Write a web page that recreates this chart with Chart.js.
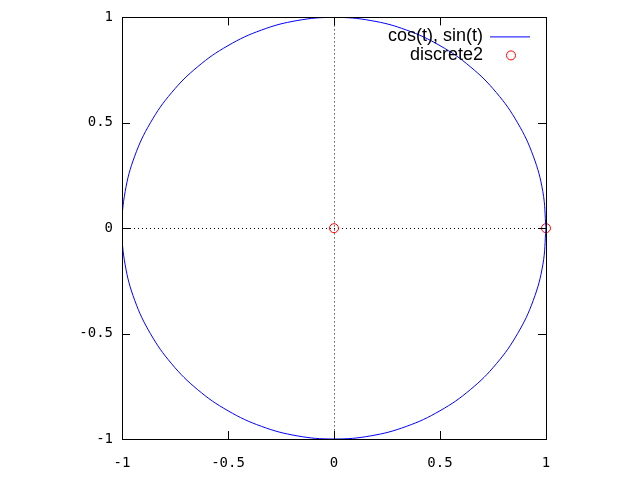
<!DOCTYPE html>
<html>
<head>
<meta charset="utf-8">
<script src="https://cdn.jsdelivr.net/npm/chart.js@4/dist/chart.umd.min.js"></script>
<style>
  html, body { margin: 0; padding: 0; background: #fff; }
  #wrap { width: 640px; height: 480px; }
</style>
</head>
<body>
<div id="wrap"><canvas id="plot" width="640" height="480"></canvas></div>
<script>
const circleX = [1, 0.985, 0.940, 0.866, 0.766, 0.643, 0.5, 0.342, 0.174, 0,
  -0.174, -0.342, -0.5, -0.643, -0.766, -0.866, -0.940, -0.985, -1,
  -0.985, -0.940, -0.866, -0.766, -0.643, -0.5, -0.342, -0.174, 0,
  0.174, 0.342, 0.5, 0.643, 0.766, 0.866, 0.940, 0.985, 1];
const circleY = [0, 0.174, 0.342, 0.5, 0.643, 0.766, 0.866, 0.940, 0.985, 1,
  0.985, 0.940, 0.866, 0.766, 0.643, 0.5, 0.342, 0.174, 0,
  -0.174, -0.342, -0.5, -0.643, -0.766, -0.866, -0.940, -0.985, -1,
  -0.985, -0.940, -0.866, -0.766, -0.643, -0.5, -0.342, -0.174, 0];
const discreteX = [0, 1];
const discreteY = [0, 0];
const tickValues = [-1, -0.5, 0, 0.5, 1];
const seriesLabels = ['cos(t), sin(t)', 'discrete2'];

const tickFont = { family: 'DejaVu Sans Mono', size: 14 };

// gnuplot style frame, inward ticks, dotted zero axes and right-aligned key
const gnuplotFrame = {
  id: 'gnuplotFrame',
  beforeDatasetsDraw(chart) {
    const { ctx, chartArea: a, scales: { x, y } } = chart;
    ctx.save();
    ctx.strokeStyle = '#000';
    ctx.lineWidth = 1;
    ctx.setLineDash([1, 3]);
    const x0 = Math.round(x.getPixelForValue(0)) + 0.5;
    const y0 = Math.round(y.getPixelForValue(0)) + 0.5;
    ctx.beginPath();
    ctx.moveTo(a.left, y0); ctx.lineTo(a.right, y0);
    ctx.moveTo(x0, a.top); ctx.lineTo(x0, a.bottom);
    ctx.stroke();
    ctx.restore();
  },
  afterDatasetsDraw(chart) {
    const { ctx, chartArea: a, scales: { x, y } } = chart;
    ctx.save();
    ctx.strokeStyle = '#000';
    ctx.lineWidth = 1;
    ctx.beginPath();
    tickValues.forEach(v => {
      const px = Math.round(x.getPixelForValue(v)) + 0.5;
      ctx.moveTo(px, a.bottom); ctx.lineTo(px, a.bottom - 8);
      ctx.moveTo(px, a.top); ctx.lineTo(px, a.top + 8);
      const py = Math.round(y.getPixelForValue(v)) + 0.5;
      ctx.moveTo(a.left, py); ctx.lineTo(a.left + 8, py);
      ctx.moveTo(a.right, py); ctx.lineTo(a.right - 8, py);
    });
    ctx.stroke();
    ctx.strokeRect(Math.round(a.left) + 0.5, Math.round(a.top) + 0.5,
      Math.round(a.right - a.left), Math.round(a.bottom - a.top));

    // key
    ctx.font = '18px "Liberation Sans", Arial, sans-serif';
    ctx.fillStyle = '#000';
    ctx.textAlign = 'right';
    ctx.textBaseline = 'middle';
    const textRight = a.right - 63;
    const rows = [a.top + 19, a.top + 38];
    ctx.fillText(seriesLabels[0], textRight, rows[0]);
    ctx.fillText(seriesLabels[1], textRight, rows[1]);
    ctx.strokeStyle = '#0000ff';
    ctx.beginPath();
    ctx.moveTo(textRight + 7, rows[0] + 0.5);
    ctx.lineTo(textRight + 47, rows[0] + 0.5);
    ctx.stroke();
    ctx.strokeStyle = '#ff0000';
    ctx.beginPath();
    ctx.arc(textRight + 28, rows[1], 4.5, 0, Math.PI * 2);
    ctx.stroke();
    ctx.restore();
  }
};

new Chart(document.getElementById('plot'), {
  type: 'scatter',
  data: {
    datasets: [
      {
        label: seriesLabels[0],
        data: circleX.map((v, i) => ({ x: v, y: circleY[i] })),
        showLine: true,
        borderColor: '#0000ff',
        borderWidth: 1,
        pointRadius: 0,
        tension: 0.4,
        fill: false
      },
      {
        label: seriesLabels[1],
        data: discreteX.map((v, i) => ({ x: v, y: discreteY[i] })),
        showLine: false,
        clip: false,
        pointStyle: 'circle',
        pointRadius: 4.5,
        borderColor: '#ff0000',
        backgroundColor: 'rgba(0,0,0,0)',
        borderWidth: 1
      }
    ]
  },
  options: {
    responsive: false,
    animation: false,
    layout: { padding: { top: 16, right: 94, left: 0, bottom: 0 } },
    plugins: { legend: { display: false }, tooltip: { enabled: false } },
    scales: {
      x: {
        type: 'linear', min: -1, max: 1,
        afterFit(s) { s.height = 41; },
        afterBuildTicks(s) { s.ticks = tickValues.map(v => ({ value: v })); },
        grid: { display: false, drawTicks: false },
        border: { display: false },
        ticks: { color: '#000', font: tickFont, padding: 16, maxRotation: 0,
          callback: v => String(v) }
      },
      y: {
        type: 'linear', min: -1, max: 1,
        afterFit(s) { s.width = 122; },
        afterBuildTicks(s) { s.ticks = tickValues.map(v => ({ value: v })); },
        grid: { display: false, drawTicks: false },
        border: { display: false },
        ticks: { color: '#000', font: tickFont, padding: 9,
          callback: v => String(v) }
      }
    }
  },
  plugins: [gnuplotFrame]
});
</script>
</body>
</html>
